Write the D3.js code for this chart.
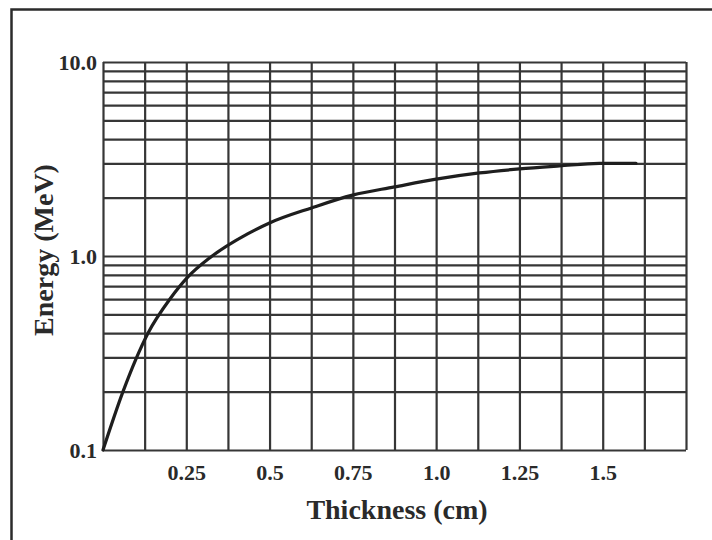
<!DOCTYPE html>
<html>
<head>
<meta charset="utf-8">
<script src="https://cdn.jsdelivr.net/npm/d3@7/dist/d3.min.js"></script>
<style>
  html, body { margin: 0; padding: 0; background: #ffffff; }
  svg { display: block; }
  text { font-family: "Liberation Serif", "Times New Roman", serif; font-weight: bold; fill: #2a2a2a; }
</style>
</head>
<body>
<svg id="chart" width="712" height="540"></svg>
<script>
// ---- data ----
const thickness = [0, 0.06, 0.135, 0.201, 0.255, 0.321, 0.434, 0.5, 0.626, 0.749, 0.875, 1.0, 1.13, 1.25, 1.37, 1.49, 1.6];
const energy    = [0.1, 0.2, 0.4, 0.6, 0.78, 0.98, 1.30, 1.48, 1.77, 2.06, 2.27, 2.49, 2.68, 2.81, 2.91, 3.0, 3.0];
const xTickValues = [0.25, 0.5, 0.75, 1.0, 1.25, 1.5];
const xTickLabels = ["0.25", "0.5", "0.75", "1.0", "1.25", "1.5"];
const xGridValues = [0, 0.125, 0.25, 0.375, 0.5, 0.625, 0.75, 0.875, 1.0, 1.125, 1.25, 1.375, 1.5, 1.625, 1.75];
const yTickValues = [0.1, 1, 10];
const yTickLabels = ["0.1", "1.0", "10.0"];
const yGridValues = [0.1, 0.2, 0.3, 0.4, 0.5, 0.6, 0.7, 0.8, 0.9, 1, 2, 3, 4, 5, 6, 7, 8, 9, 10];
const xTitle = "Thickness (cm)";
const yTitle = "Energy (MeV)";

// ---- layout ----
const svg = d3.select("#chart");
const pLeft = 103, pRight = 686, pTop = 62, pBottom = 450;
const x = d3.scaleLinear().domain([0, 1.75]).range([pLeft, pRight]);
const y = d3.scaleLog().domain([0.1, 10]).range([pBottom, pTop]);

// outer frame (scan border)
svg.append("path")
  .attr("d", `M11.5,540 L11.5,9.5 L712,9.5`)
  .attr("fill", "none").attr("stroke", "#2b2b2b").attr("stroke-width", 2.5);

const gridColor = "#363636";

// vertical grid
const gx = svg.append("g").attr("transform", `translate(0,${pBottom})`)
  .call(d3.axisBottom(x).tickValues(xGridValues).tickSize(-(pBottom - pTop)).tickFormat(""));
gx.select(".domain").remove();
gx.selectAll(".tick line").attr("stroke", gridColor).attr("stroke-width", 2.2);

// horizontal grid
const gy = svg.append("g").attr("transform", `translate(${pLeft},0)`)
  .call(d3.axisLeft(y).tickValues(yGridValues).tickSize(-(pRight - pLeft)).tickFormat(""));
gy.select(".domain").remove();
gy.selectAll(".tick line").attr("stroke", gridColor).attr("stroke-width", 2.2);

// x tick labels
const ax = svg.append("g").attr("transform", `translate(0,${pBottom})`)
  .call(d3.axisBottom(x).tickValues(xTickValues).tickSize(0).tickPadding(0)
    .tickFormat((d, i) => xTickLabels[i]));
ax.select(".domain").remove();
ax.selectAll("text").attr("y", 30).attr("dy", null).attr("font-size", 22)
  .style("font-family", '"Liberation Serif", serif').style("font-weight", "bold").attr("fill", "#2a2a2a");

// y tick labels
const ay = svg.append("g").attr("transform", `translate(${pLeft},0)`)
  .call(d3.axisLeft(y).tickValues(yTickValues).tickSize(0).tickPadding(6)
    .tickFormat((d, i) => yTickLabels[i]));
ay.select(".domain").remove();
ay.selectAll("text").attr("font-size", 22).attr("dy", "0.33em")
  .style("font-family", '"Liberation Serif", serif').style("font-weight", "bold").attr("fill", "#2a2a2a");

// curve
const line = d3.line().x((d, i) => x(thickness[i])).y((d, i) => y(energy[i])).curve(d3.curveMonotoneX);
svg.append("path").datum(energy).attr("d", line)
  .attr("fill", "none").attr("stroke", "#1e1e1e").attr("stroke-width", 3.2)
  .attr("stroke-linecap", "round").attr("stroke-linejoin", "round");

// titles
svg.append("text").attr("x", 397).attr("y", 519).attr("text-anchor", "middle")
  .attr("font-size", 28).text(xTitle);
svg.append("text").attr("transform", `translate(53,250) rotate(-90)`).attr("text-anchor", "middle")
  .attr("font-size", 28).text(yTitle);
</script>
</body>
</html>
